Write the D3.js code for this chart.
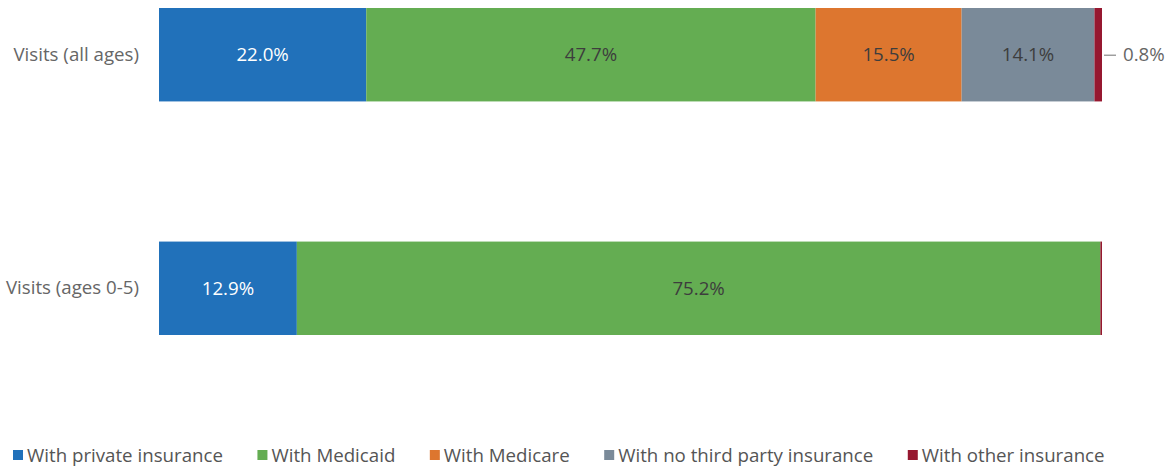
<!DOCTYPE html>
<html><head><meta charset="utf-8">
<script src="https://cdn.jsdelivr.net/npm/d3@7"></script>
<style>body{margin:0;background:#fff;} text{font-family:"Open Sans",sans-serif;}</style>
</head><body>
<svg id="chart" width="1171" height="468"></svg>
<script>
const categories = ["Visits (all ages)", "Visits (ages 0-5)"];
const seriesNames = ["With private insurance", "With Medicaid", "With Medicare", "With no third party insurance", "With other insurance"];
const privateIns = [22.0, 12.9];
const medicaid = [47.7, 75.2];
const medicare = [15.5, 0];
const noThirdParty = [14.1, 0];
const otherIns = [0.8, 0.15];
const colors = ["#2171ba", "#64ad52", "#dd762f", "#7a8a99", "#961830"];
const labelColors = ["#ffffff", "#3d3d3d", "#3d3d3d", "#3d3d3d", "#3d3d3d"];

const series = [privateIns, medicaid, medicare, noThirdParty, otherIns];
const svg = d3.select("#chart");
const FS = 18.7;

const x = d3.scaleLinear().domain([0, 100]).range([159, 1102]);
const y = d3.scaleBand().domain(categories).range([8, 335]).paddingInner(0.6).paddingOuter(0);

// build percent-stacked rows
const rows = categories.map((c, i) => {
  const vals = series.map(s => s[i]);
  const total = d3.sum(vals);
  let acc = 0;
  return vals.map((v, k) => {
    const p = v / total * 100;
    const seg = {cat: c, k, v, x0: acc, x1: acc + p};
    acc += p;
    return seg;
  });
});

const g = svg.append("g");
rows.forEach(row => {
  row.forEach(seg => {
    if (seg.v <= 0) return;
    g.append("rect")
      .attr("x", x(seg.x0))
      .attr("y", y(seg.cat))
      .attr("width", x(seg.x1) - x(seg.x0))
      .attr("height", y.bandwidth())
      .attr("fill", colors[seg.k]);
  });
  row.forEach(seg => {
    if (seg.v <= 0) return;
    const w = x(seg.x1) - x(seg.x0);
    const cy = y(seg.cat) + y.bandwidth() / 2;
    const label = seg.v.toFixed(1) + "%";
    if (w > 60) {
      g.append("text")
        .attr("x", (x(seg.x0) + x(seg.x1)) / 2)
        .attr("y", cy)
        .attr("dy", "0.35em")
        .attr("text-anchor", "middle")
        .attr("font-size", FS)
        .attr("fill", labelColors[seg.k])
        .text(label);
    } else if (seg.v >= 0.5) {
      g.append("line")
        .attr("x1", x(seg.x1) + 2).attr("x2", x(seg.x1) + 14)
        .attr("y1", cy + 0.5).attr("y2", cy + 0.5)
        .attr("stroke", "#888").attr("stroke-width", 1.2);
      g.append("text")
        .attr("x", x(seg.x1) + 21)
        .attr("y", cy)
        .attr("dy", "0.35em")
        .attr("font-size", FS)
        .attr("fill", "#666")
        .text(label);
    }
  });
});

// category axis
const yAxis = d3.axisLeft(y).tickSize(0).tickPadding(20);
const ya = svg.append("g").attr("transform", "translate(159,0)").call(yAxis);
ya.select(".domain").remove();
ya.selectAll("text").attr("font-size", FS).attr("fill", "#666").attr("font-family", '"Open Sans",sans-serif');

// legend
const lg = svg.append("g");
let lx = 13;
seriesNames.forEach((name, k) => {
  lg.append("rect").attr("x", lx).attr("y", 450).attr("width", 10).attr("height", 10).attr("fill", colors[k]);
  const t = lg.append("text").attr("x", lx + 14).attr("y", 462).attr("font-size", FS).attr("fill", "#555").text(name);
  lx += 14 + t.node().getComputedTextLength() + 34.5;
});
</script>
</body></html>
